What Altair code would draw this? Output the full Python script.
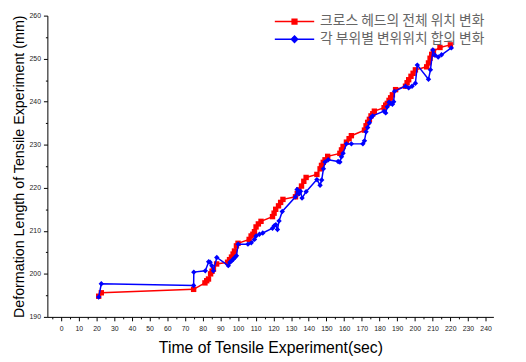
import altair as alt
import pandas as pd

# ---- data ----
red_name = "크로스 헤드의 전체 위치 변화"
blue_name = "각 부위별 변위위치 합의 변화"

red_t = [21.2, 22.7, 74.9, 81.3, 82.3, 83.3, 84.5, 85.3, 86.1, 87.9,
         94.1, 95.2, 96.3, 97.2, 98.0, 99.1, 100.0, 106.3, 107.4, 108.4,
         109.3, 110.2, 111.5, 113.0, 119.5, 120.4, 121.3, 122.9, 124.1, 125.4,
         132.5, 133.5, 134.4, 135.9, 137.2, 138.5, 144.6, 146.4, 147.2, 148.2,
         149.2, 150.7, 157.6, 158.5, 159.4, 161.3, 162.8, 164.1, 171.5, 172.4,
         173.3, 174.3, 175.2, 176.2, 177.1, 182.6, 183.5, 184.4, 185.4, 186.3,
         187.3, 189.1, 194.7, 195.6, 196.5, 197.8, 199.0, 200.3, 206.7, 207.7,
         208.6, 209.5, 210.5, 214.2, 220.1]
red_v = [194.8, 195.6, 196.4, 197.9, 198.4, 198.8, 200.0, 200.6, 201.1, 202.3,
         202.7, 203.3, 203.9, 204.6, 205.3, 206.5, 207.1, 208.0, 208.8, 209.2,
         209.8, 210.9, 211.6, 212.2, 213.3, 214.1, 215.0, 215.8, 216.6, 217.3,
         217.9, 218.7, 219.5, 220.4, 221.5, 222.4, 223.1, 224.4, 225.2, 225.9,
         226.5, 227.3, 228.0, 228.8, 229.6, 230.6, 231.4, 232.1, 233.4, 234.4,
         235.2, 235.9, 236.7, 237.2, 237.8, 238.6, 239.2, 239.6, 240.3, 240.9,
         241.6, 242.8, 243.6, 244.4, 245.1, 245.9, 246.6, 247.4, 248.1, 249.0,
         250.1, 251.0, 251.7, 252.6, 253.2]

blue_t = [21.2, 22.7, 74.9, 75.0, 81.5, 83.4, 84.2, 85.2, 86.1, 88.0,
          94.5, 95.4, 96.3, 97.3, 98.2, 99.1, 100.1, 105.6, 107.5, 109.3,
          110.2, 112.1, 114.0, 119.5, 120.5, 121.4, 122.3, 123.2, 125.0, 132.5,
          133.4, 134.4, 135.3, 136.2, 138.5, 144.6, 146.4, 147.3, 148.3, 149.2,
          151.0, 156.6, 157.6, 158.5, 159.4, 161.3, 164.1, 170.6, 171.5, 172.4,
          173.3, 174.3, 175.2, 176.1, 182.6, 183.5, 184.4, 185.4, 186.3, 187.3,
          188.0, 188.5, 194.7, 196.5, 198.4, 200.3, 201.4, 207.7, 208.8, 210.2,
          211.4, 213.2, 215.1, 220.6]
blue_v = [194.6, 197.7, 197.3, 200.4, 200.7, 202.8, 202.7, 201.9, 200.7, 203.8,
          201.9, 202.7, 203.0, 203.4, 203.8, 204.2, 206.9, 206.9, 207.2, 208.0,
          208.8, 209.2, 209.5, 210.6, 211.2, 211.4, 210.3, 212.3, 214.5, 217.9,
          219.6, 218.6, 219.2, 217.6, 219.1, 221.9, 220.6, 221.8, 224.4, 226.0,
          226.5, 226.1, 226.0, 227.2, 228.0, 230.2, 230.2, 230.2, 230.9, 233.0,
          234.0, 235.1, 236.3, 236.7, 237.8, 237.4, 238.8, 239.9, 239.6, 239.4,
          240.0, 242.4, 243.6, 243.2, 243.6, 244.3, 248.5, 245.2, 247.4, 252.0,
          250.8, 250.4, 250.9, 252.5]

x_ticks = list(range(-5, 245, 5))
y_ticks = list(range(190, 265, 5))

FONT = "Liberation Sans"

x_axis = alt.Axis(
    title="Time of Tensile Experiment(sec)", values=x_ticks,
    labelExpr="datum.value % 10 === 0 ? datum.label : ''",
    tickSize={"condition": {"test": "datum.value % 10 !== 0", "value": 2}, "value": 4},
    labelFontSize=7, labelColor="#222", labelFont=FONT, labelPadding=4,
    titleFontSize=16, titleFont=FONT, titleFontWeight="normal", titleColor="#000",
    titlePadding=8, domainColor="#000", tickColor="#000", grid=False,
    labelFlush=False, labelOverlap=False,
)
y_axis = alt.Axis(
    title="Deformation Length of Tensile Experiment (mm)", values=y_ticks,
    labelExpr="datum.value % 10 === 0 ? datum.label : ''",
    tickSize={"condition": {"test": "datum.value % 10 !== 0", "value": 2}, "value": 4},
    labelFontSize=7, labelColor="#222", labelFont=FONT, labelPadding=3,
    titleFontSize=14.5, titleFont=FONT, titleFontWeight="normal", titleColor="#000",
    titlePadding=3, domainColor="#000", tickColor="#000", grid=False,
    labelFlush=False, labelOverlap=False,
)

X = alt.X("t:Q", scale=alt.Scale(domain=[-7.8, 244.4], nice=False, zero=False), axis=x_axis)
Y = alt.Y("v:Q", scale=alt.Scale(domain=[190, 260], nice=False, zero=False), axis=y_axis)

SQ = "M-1,0H1M-0.12,-0.12H0.12V0.12H-0.12Z"
DM = "M-1,0H1M0,-0.16L0.16,0L0,0.16L-0.16,0Z"


def series_layers(t, v, name, color, shape, size, sym, ly):
    df = pd.DataFrame({"t": t, "v": v, "series": name, "idx": range(len(t))})
    sc = alt.Scale(domain=[name], range=[color])
    leg = alt.Legend(
        orient="none", legendX=230, legendY=ly, title=None,
        symbolType=sym, symbolSize=1600, symbolStrokeColor=color,
        symbolFillColor=color, symbolStrokeWidth=1.5,
        labelFontSize=14, labelFont="Noto Sans CJK KR", labelColor="#666",
        labelOffset=5, padding=0, labelLimit=400,
    )
    line = alt.Chart(df).mark_line(strokeWidth=1.5).encode(
        x=X, y=Y, order="idx:Q",
        color=alt.Color("series:N", scale=sc, legend=leg),
    )
    pts = alt.Chart(df).mark_point(shape=shape, filled=True, size=size, opacity=1).encode(
        x=X, y=Y,
        color=alt.Color("series:N", scale=sc, legend=None),
    )
    return [line, pts]


layers = (series_layers(red_t, red_v, red_name, "#ff0000", "square", 30, SQ, -15)
          + series_layers(blue_t, blue_v, blue_name, "#0000ff", "diamond", 30, DM, 3))

chart = alt.layer(*layers).resolve_scale(color="independent").properties(
    width=453, height=306,
    autosize=alt.AutoSizeParams(type="none"),
    padding={"left": 40, "top": 5, "right": 25, "bottom": 38},
).configure_view(stroke=None)

chart.save("out.html", embed_options={"renderer": "svg", "actions": False})
